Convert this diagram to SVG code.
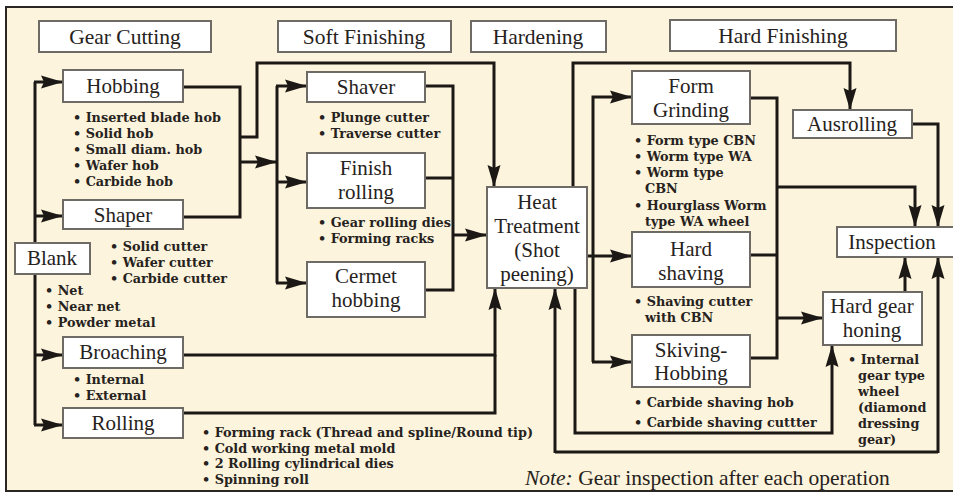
<svg xmlns="http://www.w3.org/2000/svg" width="953" height="494" viewBox="0 0 953 494">
<defs>
<marker id="ah" markerUnits="userSpaceOnUse" markerWidth="24" markerHeight="14" refX="22" refY="7" orient="auto">
<path d="M0,0.5 L22,7 L0,13.5 L3,7 z" fill="#1c1815"/>
</marker>
<style>
.bx{fill:#ffffff;stroke:#6e6a66;stroke-width:2}
.lb{font-family:"Liberation Serif","Times New Roman",serif;font-size:21px;fill:#262220;text-anchor:middle}
.hd{font-family:"Liberation Serif","Times New Roman",serif;font-size:21.5px;fill:#262220;text-anchor:middle}
.bl{font-family:"DejaVu Serif","Liberation Serif",serif;font-size:12.8px;font-weight:bold;fill:#262220}
.ln{fill:none;stroke:#1c1815;stroke-width:3}
.ar{fill:none;stroke:#1c1815;stroke-width:3;marker-end:url(#ah)}
.nt{font-family:"Liberation Serif","Times New Roman",serif;font-size:21.5px;fill:#262220}
</style>
</defs>
<rect x="0" y="0" width="953" height="494" fill="#ffffff"/>
<rect x="6" y="7" width="947" height="484" fill="#fcf4dc"/>
<path d="M953,7 H6 V491 H953" fill="none" stroke="#2a2624" stroke-width="2"/>

<g id="connectors">
<path class="ln" d="M35,425 V82"/>
<path class="ar" d="M34,82 H63"/>
<path class="ar" d="M34,216 H63"/>
<path class="ar" d="M34,355 H63"/>
<path class="ar" d="M34,425 H63"/>
<path class="ln" d="M183,87 H240 V217 H183"/>
<path class="ar" d="M240,137 H257 V63 H494 V187"/>
<path class="ar" d="M240,162 H277"/>
<path class="ln" d="M277,283 V86"/>
<path class="ar" d="M276,86 H307"/>
<path class="ar" d="M276,182 H307"/>
<path class="ar" d="M276,283 H307"/>
<path class="ln" d="M425,86 H453 V290 H425"/>
<path class="ln" d="M425,178 H453"/>
<path class="ar" d="M453,235 H487"/>
<path class="ar" d="M183,355 H495 V288"/>
<path class="ln" d="M183,413 H495 V355"/>
<path class="ln" d="M555,452 H938"/>
<path class="ar" d="M555,453 V288"/>
<path class="ar" d="M938,453 V257"/>
<path class="ar" d="M575,288 V433 H832 V345"/>
<path class="ar" d="M573,187 V63 H850 V110"/>
<path class="ar" d="M587,256 H632"/>
<path class="ar" d="M593,362 V97 H632"/>
<path class="ar" d="M592,362 H632"/>
<path class="ln" d="M750,98 H777 V358 H750"/>
<path class="ln" d="M750,255 H777"/>
<path class="ar" d="M777,187 H915 V227"/>
<path class="ar" d="M777,318 H823"/>
<path class="ar" d="M912,124 H938 V227"/>
<path class="ar" d="M905,292 V257"/>
</g>

<g id="hdr-gear-cutting"><rect class="bx" x="39" y="21" width="172" height="31"/><text class="hd" x="125" y="44">Gear Cutting</text></g>
<g id="hdr-soft-finishing"><rect class="bx" x="278" y="21" width="173" height="31"/><text class="hd" x="364" y="44">Soft Finishing</text></g>
<g id="hdr-hardening"><rect class="bx" x="471" y="21" width="135" height="31"/><text class="hd" x="538" y="44">Hardening</text></g>
<g id="hdr-hard-finishing"><rect class="bx" x="670" y="20" width="226" height="31"/><text class="hd" x="783" y="43">Hard Finishing</text></g>

<g id="hobbing"><rect class="bx" x="63" y="70" width="120" height="32"/><text class="lb" x="123" y="93">Hobbing</text>
<text class="bl"><tspan x="73" y="122">• Inserted blade hob</tspan><tspan x="73" y="138">• Solid hob</tspan><tspan x="73" y="154">• Small diam. hob</tspan><tspan x="73" y="170">• Wafer hob</tspan><tspan x="73" y="186">• Carbide hob</tspan></text></g>
<g id="shaper"><rect class="bx" x="63" y="200" width="120" height="29"/><text class="lb" x="123" y="222">Shaper</text>
<text class="bl"><tspan x="110" y="251">• Solid cutter</tspan><tspan x="110" y="267">• Wafer cutter</tspan><tspan x="110" y="283">• Carbide cutter</tspan></text></g>
<g id="blank"><rect class="bx" x="15" y="243" width="75" height="31"/><text class="lb" x="52" y="265">Blank</text>
<text class="bl"><tspan x="45" y="295">• Net</tspan><tspan x="45" y="311">• Near net</tspan><tspan x="45" y="327">• Powder metal</tspan></text></g>
<g id="broaching"><rect class="bx" x="63" y="337" width="120" height="31"/><text class="lb" x="123" y="359">Broaching</text>
<text class="bl"><tspan x="73" y="384">• Internal</tspan><tspan x="73" y="399.5">• External</tspan></text></g>
<g id="rolling"><rect class="bx" x="63" y="408" width="120" height="30"/><text class="lb" x="123" y="430">Rolling</text>
<text class="bl"><tspan x="202" y="437">• Forming rack (Thread and spline/Round tip)</tspan><tspan x="202" y="452.5">• Cold working metal mold</tspan><tspan x="202" y="468">• 2 Rolling cylindrical dies</tspan><tspan x="202" y="483.5">• Spinning roll</tspan></text></g>

<g id="shaver"><rect class="bx" x="307" y="72" width="118" height="30"/><text class="lb" x="366" y="94">Shaver</text>
<text class="bl"><tspan x="318" y="122">• Plunge cutter</tspan><tspan x="318" y="138">• Traverse cutter</tspan></text></g>
<g id="finish-rolling"><rect class="bx" x="307" y="153" width="118" height="55"/><text class="lb"><tspan x="366" y="175">Finish</tspan><tspan x="366" y="199">rolling</tspan></text>
<text class="bl"><tspan x="318" y="227">• Gear rolling dies</tspan><tspan x="318" y="243">• Forming racks</tspan></text></g>
<g id="cermet-hobbing"><rect class="bx" x="307" y="262" width="118" height="55"/><text class="lb"><tspan x="366" y="283">Cermet</tspan><tspan x="366" y="307">hobbing</tspan></text></g>

<g id="heat-treatment"><rect class="bx" x="487" y="187" width="100" height="101"/><text class="lb"><tspan x="537" y="209">Heat</tspan><tspan x="537" y="233">Treatment</tspan><tspan x="537" y="257">(Shot</tspan><tspan x="537" y="281">peening)</tspan></text></g>

<g id="form-grinding"><rect class="bx" x="632" y="71" width="118" height="53"/><text class="lb"><tspan x="691" y="93">Form</tspan><tspan x="691" y="117">Grinding</tspan></text>
<text class="bl"><tspan x="634" y="145">• Form type CBN</tspan><tspan x="634" y="161">• Worm type WA</tspan><tspan x="634" y="177">• Worm type</tspan><tspan x="645" y="193">CBN</tspan><tspan x="634" y="210">• Hourglass Worm</tspan><tspan x="645" y="226">type WA wheel</tspan></text></g>
<g id="hard-shaving"><rect class="bx" x="632" y="232" width="118" height="55"/><text class="lb"><tspan x="691" y="256">Hard</tspan><tspan x="691" y="280">shaving</tspan></text>
<text class="bl"><tspan x="634" y="306">• Shaving cutter</tspan><tspan x="645" y="322">with CBN</tspan></text></g>
<g id="skiving-hobbing"><rect class="bx" x="632" y="335" width="118" height="52"/><text class="lb"><tspan x="691" y="357">Skiving-</tspan><tspan x="691" y="380">Hobbing</tspan></text>
<text class="bl"><tspan x="634" y="407">• Carbide shaving hob</tspan><tspan x="634" y="427">• Carbide shaving cuttter</tspan></text></g>

<g id="ausrolling"><rect class="bx" x="793" y="110" width="119" height="28"/><text class="lb" x="852" y="131">Ausrolling</text></g>
<g id="inspection"><rect class="bx" x="837" y="227" width="120" height="30"/><text class="lb" x="892" y="249">Inspection</text></g>
<g id="hard-gear-honing"><rect class="bx" x="823" y="292" width="99" height="53"/><text class="lb"><tspan x="872" y="313">Hard gear</tspan><tspan x="872" y="337">honing</tspan></text>
<text class="bl"><tspan x="848" y="364">• Internal</tspan><tspan x="858" y="380">gear type</tspan><tspan x="858" y="396">wheel</tspan><tspan x="858" y="412">(diamond</tspan><tspan x="858" y="428">dressing</tspan><tspan x="858" y="444">gear)</tspan></text></g>

<text class="nt" x="525" y="485"><tspan font-style="italic">Note:</tspan> Gear inspection after each operation</text>
</svg>
